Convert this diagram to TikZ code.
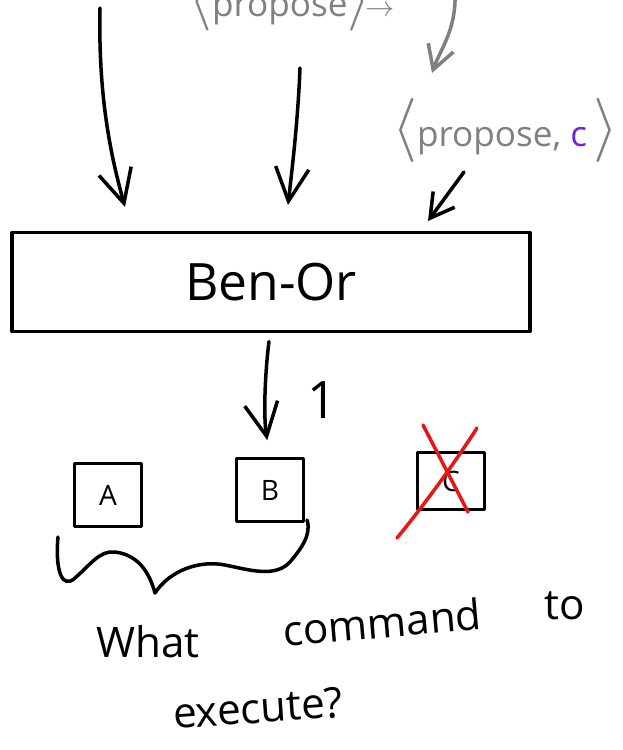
\documentclass[tikz,border=0pt]{standalone}
\usepackage{amsmath}
\usepackage{fontspec}
\setmainfont{Open Sans}
\usepackage{tikz}
\usetikzlibrary{arrows.meta}
\definecolor{pengray}{RGB}{128,128,128}
\definecolor{penviolet}{RGB}{112,32,230}
\definecolor{penred}{RGB}{232,22,22}

\begin{document}
\begin{tikzpicture}[x=0.03cm, y=-0.03cm, every node/.style={inner sep=0pt},
	pen/.style={line width=3pt, line cap=round, line join=round},
	barb/.style={-{Straight Barb[length=10mm, width=10mm]}},
	smallbarb/.style={-{Straight Barb[length=7mm, width=8mm]}},
	cmd/.style={draw, pen, minimum width=2cm, minimum height=1.9cm, font=\fontsize{24}{28}\selectfont},
	hand/.style={font=\fontsize{36}{40}\selectfont}]
	\useasboundingbox (0,0) rectangle (623,750);
	% incoming messages
	\node[text=pengray, font=\fontsize{30}{34}\selectfont] (msgtop) at (292,2) {\scalebox{2}{$\langle$}propose\scalebox{2}{$\rangle$}$\!\rightarrow$};
	\node[text=pengray, font=\fontsize{30}{34}\selectfont] (msgc) at (505,130) {\scalebox{2.2}{$\langle$}propose, {\color{penviolet}c}\,\scalebox{2.2}{$\rangle$}};
	\coordinate (srcL) at (100,8);
	\coordinate (tipL) at (125,207);
	\coordinate (srcM) at (300,68);
	\coordinate (tipM) at (288,205);
	\coordinate (srcG) at (455,-5);
	\coordinate (tipG) at (432,73);
	\coordinate (srcC) at (464,172);
	\coordinate (tipC) at (428,221);
	\draw[pen, barb] (srcL) .. controls (98,100) and (112,160) .. (tipL);
	\draw[pen, barb] (srcM) .. controls (298,120) and (292,170) .. (tipM);
	\draw[pen, smallbarb, pengray] (srcG) .. controls (456,30) and (440,50) .. (tipG);
	\draw[pen, smallbarb] (srcC) -- (tipC);
	% the protocol
	\node[draw, pen, minimum width=15.54cm, minimum height=2.97cm, font=\fontsize{44}{48}\selectfont] (benor) at (271,282) {Ben-Or};
	% candidate commands
	\node[cmd] (cmdA) at (108,495) {A};
	\node[cmd] (cmdB) at (270,490) {B};
	\node[cmd, minimum height=1.7cm] (cmdC) at (451,481) {C};
	\draw[pen, barb, shorten <=0.25cm, shorten >=0.5cm] (benor.south -| cmdB) .. controls ([xshift=-0.15cm, yshift=-1.2cm]benor.south -| cmdB) and ([xshift=-0.2cm, yshift=1.2cm]cmdB.north) .. (cmdB.north);
	\node[font=\fontsize{44}{48}\selectfont] (decided) at (322,400) {1};
	\draw[pen, penred] (423,425) -- (468,512);
	\draw[pen, penred] (477,428) .. controls (450,470) and (420,510) .. (397,538);
	% brace under A and B
	\draw[pen] (58,537) .. controls (55,570) and (62,590) .. (75,578) .. controls (90,565) and (100,550) .. (115,552) .. controls (140,555) and (150,575) .. (155,593) .. controls (170,570) and (200,560) .. (225,565) .. controls (250,570) and (275,578) .. (290,562) .. controls (300,550) and (312,535) .. (307,520);
	\node[hand] (qwhat) at (148,642) {What};
	\node[hand, rotate=5] (qcmd) at (382,622) {command};
	\node[hand] (qto) at (565,606) {to};
	\node[hand, rotate=4] (qexec) at (258,708) {execute?};
\end{tikzpicture}
\end{document}
